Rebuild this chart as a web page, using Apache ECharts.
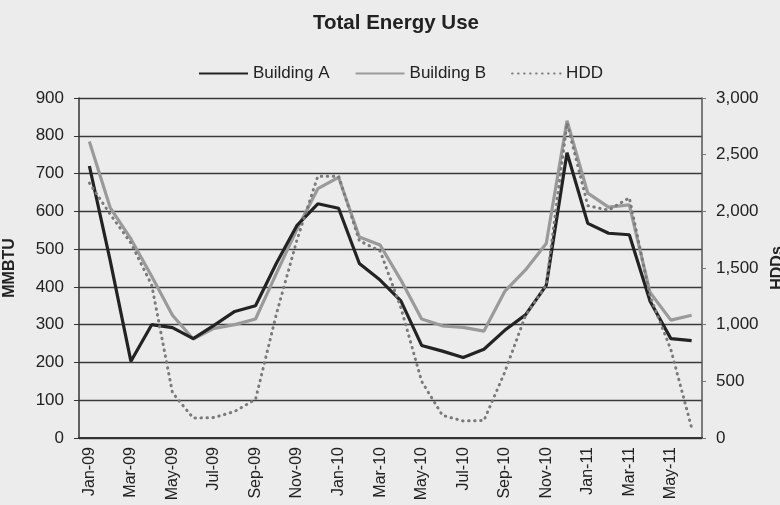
<!DOCTYPE html>
<html>
<head>
<meta charset="utf-8">
<title>Total Energy Use</title>
<script src="https://cdn.jsdelivr.net/npm/echarts@6/dist/echarts.min.js"></script>
<style>
  html, body { margin: 0; padding: 0; background: #ececec; }
  #chart { width: 780px; height: 505px; }
</style>
</head>
<body>
<div id="chart"></div>
<script>
// Monthly categories, Jan-09 through Jun-11
const months = [
  'Jan-09','Feb-09','Mar-09','Apr-09','May-09','Jun-09','Jul-09','Aug-09','Sep-09','Oct-09','Nov-09','Dec-09',
  'Jan-10','Feb-10','Mar-10','Apr-10','May-10','Jun-10','Jul-10','Aug-10','Sep-10','Oct-10','Nov-10','Dec-10',
  'Jan-11','Feb-11','Mar-11','Apr-11','May-11','Jun-11'
];

// Energy use per building (MMBTU)
const buildingA = [720, 470, 203, 300, 292, 263, 298, 335, 350, 462, 563, 620,
                   608, 462, 418, 363, 245, 230, 213, 235, 285, 326, 404, 755,
                   568, 542, 538, 362, 263, 258];
const buildingB = [785, 610, 527, 428, 325, 262, 290, 300, 315, 435, 553, 660,
                   690, 532, 511, 418, 315, 297, 293, 283, 388, 445, 515, 840,
                   648, 611, 617, 385, 312, 325];

// Heating degree days (right axis)
const hdd = [2250, 1975, 1720, 1350, 400, 176, 180, 235, 340, 1090, 1750, 2310,
             2310, 1740, 1650, 1150, 500, 200, 150, 155, 580, 1080, 1350, 2780,
             2050, 2010, 2120, 1250, 780, 90];

const FONT = '"Liberation Sans", Arial, sans-serif';
const TEXT = '#222';

const chart = echarts.init(document.getElementById('chart'), null, { renderer: 'canvas' });

chart.setOption({
  backgroundColor: '#ececec',
  animation: false,
  textStyle: { fontFamily: FONT, color: TEXT },
  title: {
    text: 'Total Energy Use',
    left: 308,
    top: 8,
    textStyle: { fontFamily: FONT, fontSize: 20.5, fontWeight: 'bold', color: TEXT }
  },
  legend: {
    left: 198,
    top: 65,
    padding: 0,
    itemWidth: 49,
    itemHeight: 14,
    itemGap: 25,
    itemStyle: { opacity: 0 },
    textStyle: { fontFamily: FONT, fontSize: 17, color: TEXT },
    data: ['Building A', 'Building B', 'HDD']
  },
  grid: { left: 79, right: 78, top: 98, bottom: 67, outerBoundsMode: 'none' },
  xAxis: {
    type: 'category',
    data: months,
    boundaryGap: true,
    axisLine: { show: true, lineStyle: { color: '#333', width: 2 } },
    axisTick: { show: false },
    axisLabel: {
      interval: 1,
      rotate: 90,
      margin: 9,
      fontFamily: FONT,
      fontSize: 16,
      color: TEXT
    },
    splitLine: { show: false }
  },
  yAxis: [
    {
      type: 'value',
      min: 0,
      max: 900,
      interval: 100,
      name: 'MMBTU',
      nameLocation: 'middle',
      nameRotate: 90,
      nameGap: 61,
      nameTextStyle: { fontFamily: FONT, fontSize: 16, fontWeight: 'bold', color: TEXT },
      axisLine: { show: true, lineStyle: { color: '#333', width: 1.5 } },
      axisTick: { show: true, length: 5, lineStyle: { color: '#333' } },
      axisLabel: { margin: 15, fontFamily: FONT, fontSize: 17, color: TEXT },
      splitLine: { show: true, lineStyle: { color: '#3a3a3a', width: 1.3 } }
    },
    {
      type: 'value',
      min: 0,
      max: 3000,
      interval: 500,
      position: 'right',
      name: 'HDDs',
      nameLocation: 'middle',
      nameRotate: 90,
      nameGap: 66,
      nameTextStyle: { fontFamily: FONT, fontSize: 16, fontWeight: 'bold', color: TEXT },
      axisLine: { show: true, lineStyle: { color: '#555', width: 1.5 } },
      axisTick: { show: true, length: 4, lineStyle: { color: '#777' } },
      axisLabel: {
        margin: 14,
        fontFamily: FONT,
        fontSize: 17,
        color: TEXT,
        formatter: v => String(v).replace(/\B(?=(\d{3})+(?!\d))/g, ',')
      },
      splitLine: { show: false }
    }
  ],
  series: [
    {
      name: 'Building A',
      type: 'line',
      data: buildingA,
      yAxisIndex: 0,
      symbol: 'none',
      z: 4,
      lineStyle: { color: '#232323', width: 3.2 },
      itemStyle: { color: '#232323' }
    },
    {
      name: 'Building B',
      type: 'line',
      data: buildingB,
      yAxisIndex: 0,
      symbol: 'none',
      z: 3,
      lineStyle: { color: '#9a9a9a', width: 3.2 },
      itemStyle: { color: '#9a9a9a' }
    },
    {
      name: 'HDD',
      type: 'line',
      data: hdd,
      yAxisIndex: 1,
      symbol: 'none',
      z: 5,
      lineStyle: { color: '#7a7a7a', width: 3, type: [0.5, 5.5], cap: 'round' },
      itemStyle: { color: '#7a7a7a' }
    }
  ]
});
</script>
</body>
</html>
